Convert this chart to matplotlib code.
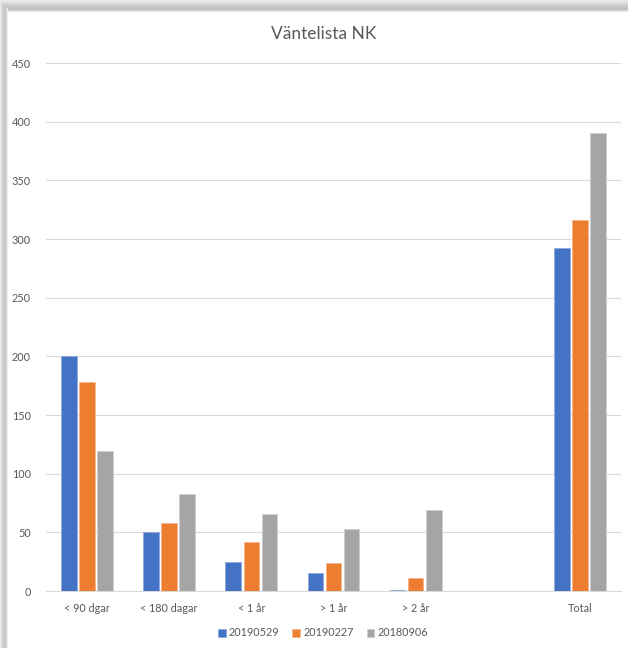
import matplotlib.pyplot as plt
import numpy as np
from matplotlib.patches import Rectangle

plt.rcParams['font.family'] = ['Lato', 'DejaVu Sans']

kategorier = ['< 90 dgar', '< 180 dagar', '< 1 år', '> 1 år', '> 2 år', '', 'Total']
serier = ['20190529', '20190227', '20180906']
v_20190529 = [200, 50, 25, 15, 1, 0, 292]
v_20190227 = [178, 58, 42, 24, 11, 0, 316]
v_20180906 = [119, 83, 66, 53, 69, 0, 390]
farger = ['#4472C4', '#ED7D31', '#A5A5A5']
kanter = ['#8fa9dc', '#f5b58a', '#cfcfcf']
yticks = [0, 50, 100, 150, 200, 250, 300, 350, 400, 450]

fig = plt.figure(figsize=(6.28, 6.48), dpi=100)

# skugga runt diagramrutan (vänster och upptill)
W, H = 628, 648
vanster = ['#e8e8e8', '#dedede', '#d4d4d4', '#cacaca', '#c4c4c4', '#c8c8c8', '#d8d8d8', '#ececec']
for i, c in enumerate(vanster):
    fig.patches.append(Rectangle((i / W, 0), 1 / W, 1 - i / H, transform=fig.transFigure,
                                 color=c, zorder=0, lw=0))
topp = ['#e8e8e8', '#e4e4e4', '#e0e0e0', '#dadada', '#d4d4d4', '#cecece', '#c8c8c8',
        '#c2c2c2', '#c0c0c0', '#c6c6c6', '#d4d4d4', '#e6e6e6']
for i, c in enumerate(topp):
    x0 = min(i, len(vanster)) / W
    fig.patches.append(Rectangle((x0, 1 - (i + 1) / H), 1 - x0, 1 / H,
                                 transform=fig.transFigure, color=c, zorder=0, lw=0))

ax = fig.add_axes([46 / W, 1 - 591 / H, (621 - 46) / W, (591 - 63) / H])

x = np.arange(len(kategorier))
steg = 0.22
bredd = 0.19
for i, (namn, vals) in enumerate(zip(serier, [v_20190529, v_20190227, v_20180906])):
    ax.bar(x + (i - 1) * steg, vals, bredd, color=farger[i], label=namn,
           edgecolor=kanter[i], linewidth=0.6, zorder=3)

ax.set_xlim(-0.5, len(kategorier) - 0.5)
ax.set_ylim(0, 450)
ax.set_yticks(yticks)
ax.set_xticks(x)
ax.set_xticklabels(kategorier)
ax.tick_params(axis='both', length=0, labelsize=7.8, colors='#595959')
ax.tick_params(axis='y', pad=11)
ax.tick_params(axis='x', pad=9)
ax.grid(axis='y', color='#d9d9d9', linewidth=0.8, zorder=0)
for s in ['top', 'right', 'left']:
    ax.spines[s].set_visible(False)
ax.spines['bottom'].set_color('#d9d9d9')

fig.text(324 / W, 1 - 34 / H, 'Väntelista NK', ha='center', va='center',
         fontsize=12.5, color='#595959')

fig.legend(loc='center', bbox_to_anchor=(323 / W, 1 - 633 / H), ncol=3, frameon=False,
           fontsize=7.8, handlelength=0.7, handleheight=0.7, handletextpad=0.3,
           columnspacing=1.2, labelcolor='#595959')

fig.savefig('out.png', dpi=100)
